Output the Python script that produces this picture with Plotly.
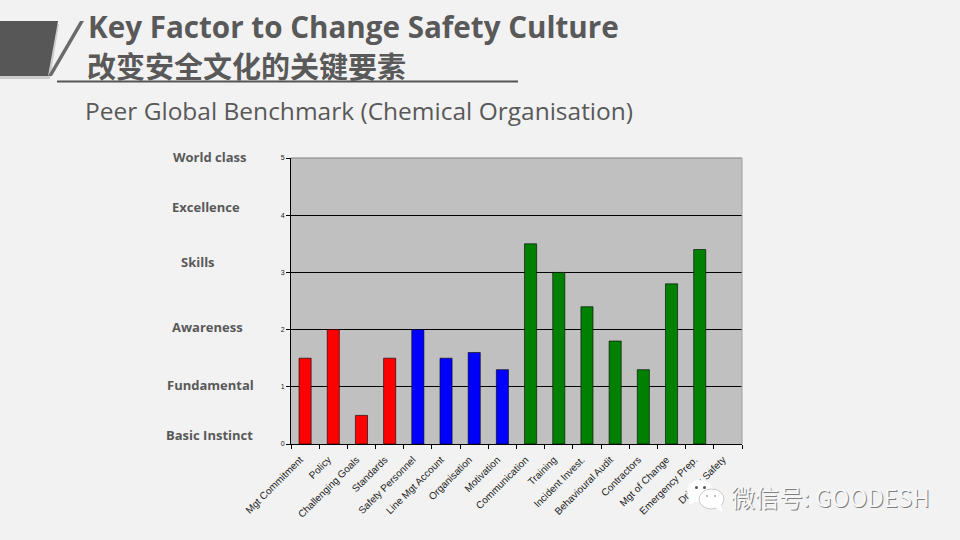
import plotly.graph_objects as go

categories = ["Mgt Commitment", "Policy", "Challenging Goals", "Standards", "Safety Personnel",
              "Line Mgt Account", "Organisation", "Motivation", "Communication", "Training",
              "Incident Invest.", "Behavioural Audit", "Contractors", "Mgt of Change",
              "Emergency Prep.", "Driving Safety"]
scores = [1.5, 2, 0.5, 1.5, 2, 1.5, 1.6, 1.3, 3.5, 3, 2.4, 1.8, 1.3, 2.8, 3.4, 0]
bar_colors = ["#ff0000"] * 4 + ["#0000ff"] * 4 + ["#008000"] * 8
outline_widths = [0.6] * 15 + [0]
level_labels = ["World class", "Excellence", "Skills", "Awareness", "Fundamental", "Basic Instinct"]
level_pos = [(210, 157), (206, 207), (198, 262), (207, 327), (210, 385), (209, 435)]
y_ticks = [0, 1, 2, 3, 4, 5]

W, H = 960, 540
L, R, T, B = 291, 742, 158, 444


def px(x):
    return (x - L) / (R - L)


def py(y):
    return (B - y) / (B - T)


def path(points):
    return "M " + " L ".join(f"{px(x):.5f},{py(y):.5f}" for x, y in points) + " Z"


fig = go.Figure(go.Bar(
    x=categories, y=scores,
    marker=dict(color=bar_colors, line=dict(color="#000000", width=outline_widths)),
    width=0.43, hoverinfo="x+y"))

shapes = [
    dict(type="path", path=path([(0, 24), (59, 24), (50, 79), (0, 79)]), fillcolor="#cccccc", line_width=0),
    dict(type="path", path=path([(0, 21), (58, 21), (48, 76), (0, 76)]), fillcolor="#575757", line_width=0),
    dict(type="path", path=path([(80, 21), (84, 21), (52, 76), (48, 76)]), fillcolor="#6a6a6a", line_width=0),
    dict(type="line", x0=px(57), x1=px(518), y0=py(81.5), y1=py(81.5), line=dict(color="#555555", width=2)),
    dict(type="line", x0=0, x1=1, y0=1, y1=1, line=dict(color="#808080", width=1)),
    dict(type="line", x0=1, x1=1, y0=0, y1=1, line=dict(color="#a0a0a0", width=1)),
    # WeChat watermark bubbles
    dict(type="circle", x0=px(687), x1=px(713), y0=py(480), y1=py(502), fillcolor="#ffffff", line_width=0),
    dict(type="path", path=path([(690, 497), (697, 501), (689, 505)]), fillcolor="#ffffff", line_width=0),
    dict(type="circle", x0=px(699), x1=px(724), y0=py(489), y1=py(509), fillcolor="#ffffff",
         line=dict(color="#bdbdbd", width=0.8)),
    dict(type="path", path=path([(713, 506), (721, 505), (722, 512)]), fillcolor="#ffffff", line_width=0),
    dict(type="circle", x0=px(695), x1=px(698), y0=py(486), y1=py(489), fillcolor="#555555", line_width=0),
    dict(type="circle", x0=px(703), x1=px(706), y0=py(486), y1=py(489), fillcolor="#555555", line_width=0),
    dict(type="circle", x0=px(706), x1=px(708), y0=py(495), y1=py(497), fillcolor="#aaaaaa", line_width=0),
    dict(type="circle", x0=px(714), x1=px(716), y0=py(495), y1=py(497), fillcolor="#aaaaaa", line_width=0),
]
for s in shapes:
    s["xref"] = "paper"
    s["yref"] = "paper"

annotations = []


def add_text(x, y, text, size, color, family, anchor="left"):
    annotations.append(dict(xref="paper", yref="paper", x=px(x), y=py(y), text=text, showarrow=False,
                            xanchor=anchor, yanchor="middle", font=dict(size=size, color=color, family=family)))


add_text(86, 27, "<b>Key Factor to Change Safety Culture</b>", 29.6, "#595959", "Open Sans")
add_text(85, 65, "<b>改变安全文化的关键要素</b>", 29, "#595959", "Noto Sans CJK SC")
add_text(83, 111, "Peer Global Benchmark (Chemical Organisation)", 24.5, "#595959", "Open Sans")
for label, (x, y) in zip(level_labels, level_pos):
    add_text(x, y, f"<b>{label}</b>", 13, "#595959", "Open Sans", "center")
add_text(730, 497, "微信号: GOODESH", 24, "#7f7f7f", "Noto Sans CJK SC")
add_text(729, 496, "微信号: GOODESH", 24, "#f7f7f7", "Noto Sans CJK SC")

fig.update_layout(
    width=W, height=H, margin=dict(l=L, r=W - R, t=T, b=H - B, autoexpand=False),
    paper_bgcolor="#f2f2f2", plot_bgcolor="#c0c0c0", showlegend=False,
    shapes=shapes, annotations=annotations,
    font=dict(family="Liberation Sans", color="#000000"),
    xaxis=dict(type="category", categoryorder="array", categoryarray=categories, tickangle=-45,
               tickson="boundaries", ticks="outside", ticklen=4, tickcolor="#000000", tickwidth=1,
               showline=True, linecolor="#000000", linewidth=1, showgrid=False,
               ticklabelstandoff=5, ticklabelshift=-5,
               tickfont=dict(size=10, color="#222222", family="Liberation Sans")),
    yaxis=dict(range=[0, 5], tickvals=y_ticks, ticks="outside", ticklen=4, tickcolor="#000000",
               showline=True, linecolor="#000000", linewidth=1, showgrid=True, gridcolor="#000000",
               gridwidth=1, zeroline=False, tickfont=dict(size=7, color="#222222", family="Liberation Sans")),
)

fig.write_html("out.html", config={"displayModeBar": False},
               post_script="document.body.style.margin='0';document.body.style.background='#f2f2f2';document.documentElement.style.overflow='hidden';")
